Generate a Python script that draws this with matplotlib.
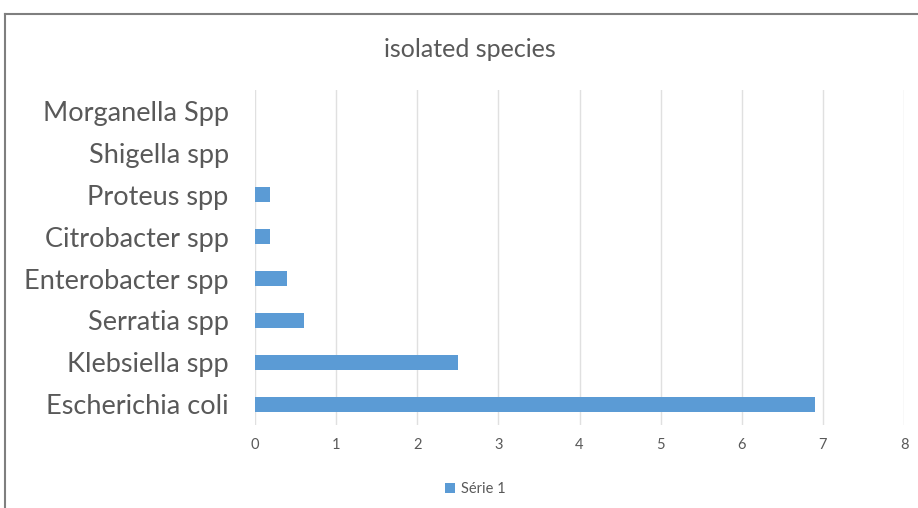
import matplotlib.pyplot as plt
import matplotlib.lines as mlines
import numpy as np

# Data
species = ["Escherichia coli", "Klebsiella spp", "Serratia spp", "Enterobacter spp",
           "Citrobacter spp", "Proteus spp", "Shigella spp", "Morganella Spp"]
values = [6.9, 2.5, 0.6, 0.4, 0.18, 0.18, 0, 0]
x_ticks = [0, 1, 2, 3, 4, 5, 6, 7, 8]

bar_color = "#5b9bd5"
text_color = "#595959"
grid_color = "#e0e0e0"

plt.rcParams['font.family'] = ['Lato', 'DejaVu Sans']

fig = plt.figure(figsize=(9.18, 5.08), dpi=100)
ax = fig.add_axes([0.2778, 0.163, 0.707, 0.660])

y = np.arange(len(species))
ax.barh(y, values, height=0.36, color=bar_color, label="Série 1", zorder=3)

ax.set_xlim(0, 8)
ax.set_ylim(-0.5, len(species) - 0.5)
ax.set_xticks(x_ticks)
ax.set_xticklabels([str(t) for t in x_ticks], fontsize=10.5, color=text_color)
ax.set_yticks(y)
ax.set_yticklabels(species, fontsize=19.5, color=text_color)
ax.tick_params(axis="x", length=0, pad=9)
ax.tick_params(axis="y", length=0, pad=19)
ax.grid(axis="x", color=grid_color, linewidth=1, zorder=0)
for s in ax.spines.values():
    s.set_visible(False)

fig.text(0.512, 0.902, "isolated species", ha="center", va="center", fontsize=18, color=text_color)

leg = fig.legend(loc="center", bbox_to_anchor=(0.518, 0.037), frameon=False,
                 fontsize=10.5, handlelength=0.7, handleheight=0.7, handletextpad=0.4)
for t in leg.get_texts():
    t.set_color(text_color)

# chart border (top and left edges visible)
fig.add_artist(mlines.Line2D([0.0055, 1.0], [1 - 14 / 508, 1 - 14 / 508], color="#7f7f7f", lw=1.5))
fig.add_artist(mlines.Line2D([0.0055, 0.0055], [0.0, 1 - 14 / 508], color="#7f7f7f", lw=1.5))

fig.savefig("out.png", dpi=100)
